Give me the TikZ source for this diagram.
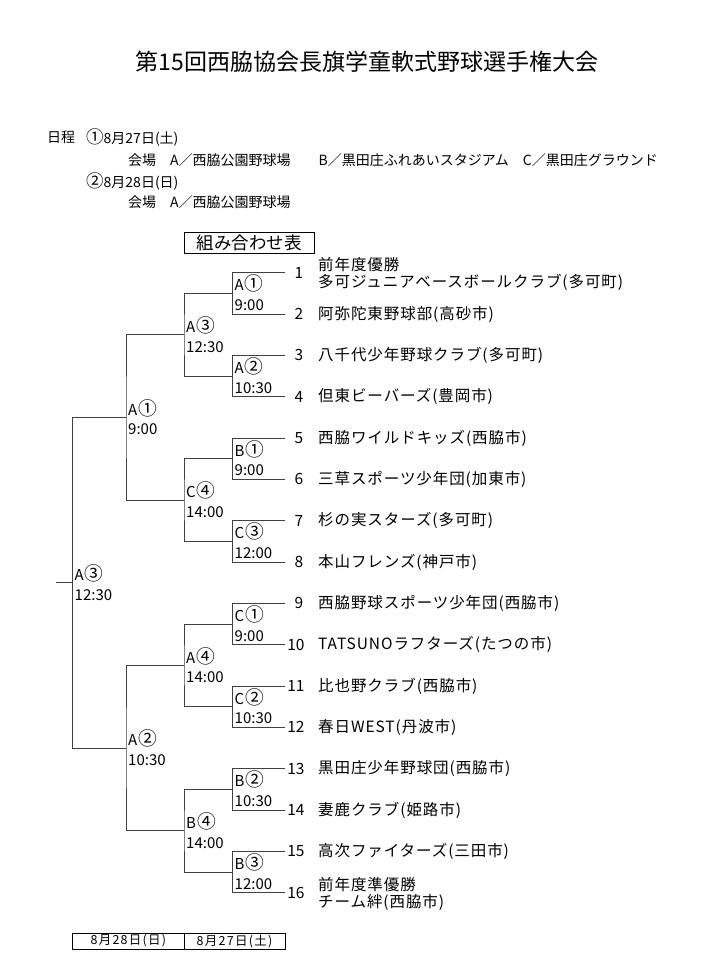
\documentclass[tikz,border=0pt]{standalone}
\usepackage{fontspec}
\setmainfont{Noto Sans CJK JP}
\newfontfamily\widefont[LetterSpace=6]{Noto Sans CJK JP}
\newfontfamily\cellfont[LetterSpace=10]{Noto Sans CJK JP}
\newcommand{\circnum}[1]{\hspace{1pt}\scalebox{1.25}{#1}}
\begin{document}
\begin{tikzpicture}[x=1pt, y=-1pt,
  line/.style={draw=black!75, line width=0.9pt},
  seed/.style={anchor=east, inner xsep=2.5pt, inner ysep=0pt, text width=16pt, align=right, font=\fontsize{15.5}{17}\selectfont},
  team/.style={anchor=west, inner sep=0pt, align=left, font=\widefont\fontsize{15.5}{17}\selectfont},
  game/.style={anchor=west, inner sep=1pt, align=left, font=\fontsize{15}{19.5}\selectfont},
  info/.style={anchor=west, inner sep=0pt, font=\fontsize{14}{15}\selectfont},
  cell/.style={draw, line width=0.8pt, minimum height=16pt, inner sep=0pt, font=\cellfont\fontsize{12.5}{14}\selectfont}]
\useasboundingbox (0,0) rectangle (726,979);
\node[font=\fontsize{23}{26}\selectfont] (title) at (367,62) {第15回西脇協会長旗学童軟式野球選手権大会};
\node[info] (sched) at (47,137) {日程};
\node[info] (day1) at (86,137) {\scalebox{1.25}{①}8月27日(土)};
\node[info] (venue1) at (128,160) {会場　A／西脇公園野球場　　B／黒田庄ふれあいスタジアム　C／黒田庄グラウンド};
\node[info] (day2) at (86,181) {\scalebox{1.25}{②}8月28日(日)};
\node[info] (venue2) at (128,202) {会場　A／西脇公園野球場};
\node[draw, line width=0.8pt, minimum width=130pt, minimum height=21pt, inner sep=0pt, font=\fontsize{17.5}{18}\selectfont] (table) at (249,242.5) {組み合わせ表};

\node[seed] (t1) at (306,272.7) {1};
\node[seed] (t2) at (306,314.0) {2};
\node[seed] (t3) at (306,355.4) {3};
\node[seed] (t4) at (306,396.7) {4};
\node[seed] (t5) at (306,438.0) {5};
\node[seed] (t6) at (306,479.4) {6};
\node[seed] (t7) at (306,520.7) {7};
\node[seed] (t8) at (306,562.0) {8};
\node[seed] (t9) at (306,603.3) {9};
\node[seed] (t10) at (306,644.7) {10};
\node[seed] (t11) at (306,686.0) {11};
\node[seed] (t12) at (306,727.3) {12};
\node[seed] (t13) at (306,768.7) {13};
\node[seed] (t14) at (306,810.0) {14};
\node[seed] (t15) at (306,851.3) {15};
\node[seed] (t16) at (306,892.7) {16};

\node[team] (name1) at (318,273.5) {前年度優勝\\多可ジュニアベースボールクラブ(多可町)};
\node[team] (name2) at (318,314.0) {阿弥陀東野球部(高砂市)};
\node[team] (name3) at (318,355.4) {八千代少年野球クラブ(多可町)};
\node[team] (name4) at (318,396.7) {但東ビーバーズ(豊岡市)};
\node[team] (name5) at (318,438.0) {西脇ワイルドキッズ(西脇市)};
\node[team] (name6) at (318,479.4) {三草スポーツ少年団(加東市)};
\node[team] (name7) at (318,520.7) {杉の実スターズ(多可町)};
\node[team] (name8) at (318,562.0) {本山フレンズ(神戸市)};
\node[team] (name9) at (318,603.3) {西脇野球スポーツ少年団(西脇市)};
\node[team] (name10) at (318,644.7) {TATSUNOラフターズ(たつの市)};
\node[team] (name11) at (318,686.0) {比也野クラブ(西脇市)};
\node[team] (name12) at (318,727.3) {春日WEST(丹波市)};
\node[team] (name13) at (318,768.7) {黒田庄少年野球団(西脇市)};
\node[team] (name14) at (318,810.0) {妻鹿クラブ(姫路市)};
\node[team] (name15) at (318,851.3) {高次ファイターズ(三田市)};
\node[team] (name16) at (318,893.5) {前年度準優勝\\チーム絆(西脇市)};

\coordinate (m1) at (232.7,293.3);
\coordinate (m2) at (232.7,376.0);
\coordinate (m3) at (232.7,458.7);
\coordinate (m4) at (232.7,541.3);
\coordinate (m5) at (232.7,624.0);
\coordinate (m6) at (232.7,706.7);
\coordinate (m7) at (232.7,789.3);
\coordinate (m8) at (232.7,872.0);
\coordinate (n1) at (184,334.7);
\coordinate (n2) at (184,500.0);
\coordinate (n3) at (184,665.3);
\coordinate (n4) at (184,830.7);
\coordinate (s1) at (126,417.3);
\coordinate (s2) at (126,748.0);
\coordinate (final) at (72.7,582.7);
\coordinate (champ) at (56,582.7);

\draw[line] (t1.west) -| (m1) |- (t2.west);
\draw[line] (t3.west) -| (m2) |- (t4.west);
\draw[line] (t5.west) -| (m3) |- (t6.west);
\draw[line] (t7.west) -| (m4) |- (t8.west);
\draw[line] (t9.west) -| (m5) |- (t10.west);
\draw[line] (t11.west) -| (m6) |- (t12.west);
\draw[line] (t13.west) -| (m7) |- (t14.west);
\draw[line] (t15.west) -| (m8) |- (t16.west);
\draw[line] (m1) -| (n1) |- (m2);
\draw[line] (m3) -| (n2) |- (m4);
\draw[line] (m5) -| (n3) |- (m6);
\draw[line] (m7) -| (n4) |- (m8);
\draw[line] (n1) -| (s1) |- (n2);
\draw[line] (n3) -| (s2) |- (n4);
\draw[line] (s1) -| (final) |- (s2);
\draw[line] (champ) -- (final);

\node[game] (g1) at (233.5,292.8) {A\circnum{①}\\9:00};
\node[game] (g2) at (233.5,375.5) {A\circnum{②}\\10:30};
\node[game] (g3) at (233.5,458.2) {B\circnum{①}\\9:00};
\node[game] (g4) at (233.5,540.8) {C\circnum{③}\\12:00};
\node[game] (g5) at (233.5,623.5) {C\circnum{①}\\9:00};
\node[game] (g6) at (233.5,706.2) {C\circnum{②}\\10:30};
\node[game] (g7) at (233.5,788.8) {B\circnum{②}\\10:30};
\node[game] (g8) at (233.5,871.5) {B\circnum{③}\\12:00};
\node[game] (h1) at (185,334.6) {A\circnum{③}\\12:30};
\node[game] (h2) at (185,499.9) {C\circnum{④}\\14:00};
\node[game] (h3) at (185,665.2) {A\circnum{④}\\14:00};
\node[game] (h4) at (185,830.6) {B\circnum{④}\\14:00};
\node[game] (k1) at (127,417.2) {A\circnum{①}\\9:00};
\node[game] (k2) at (127,747.9) {A\circnum{②}\\10:30};
\node[game] (k3) at (73.5,582.6) {A\circnum{③}\\12:30};

\node[cell, minimum width=111.3pt] (date2) at (128.35,941) {8月28日(日)};
\node[cell, minimum width=101pt] (date1) at (234.5,941) {8月27日(土)};
\end{tikzpicture}
\end{document}
